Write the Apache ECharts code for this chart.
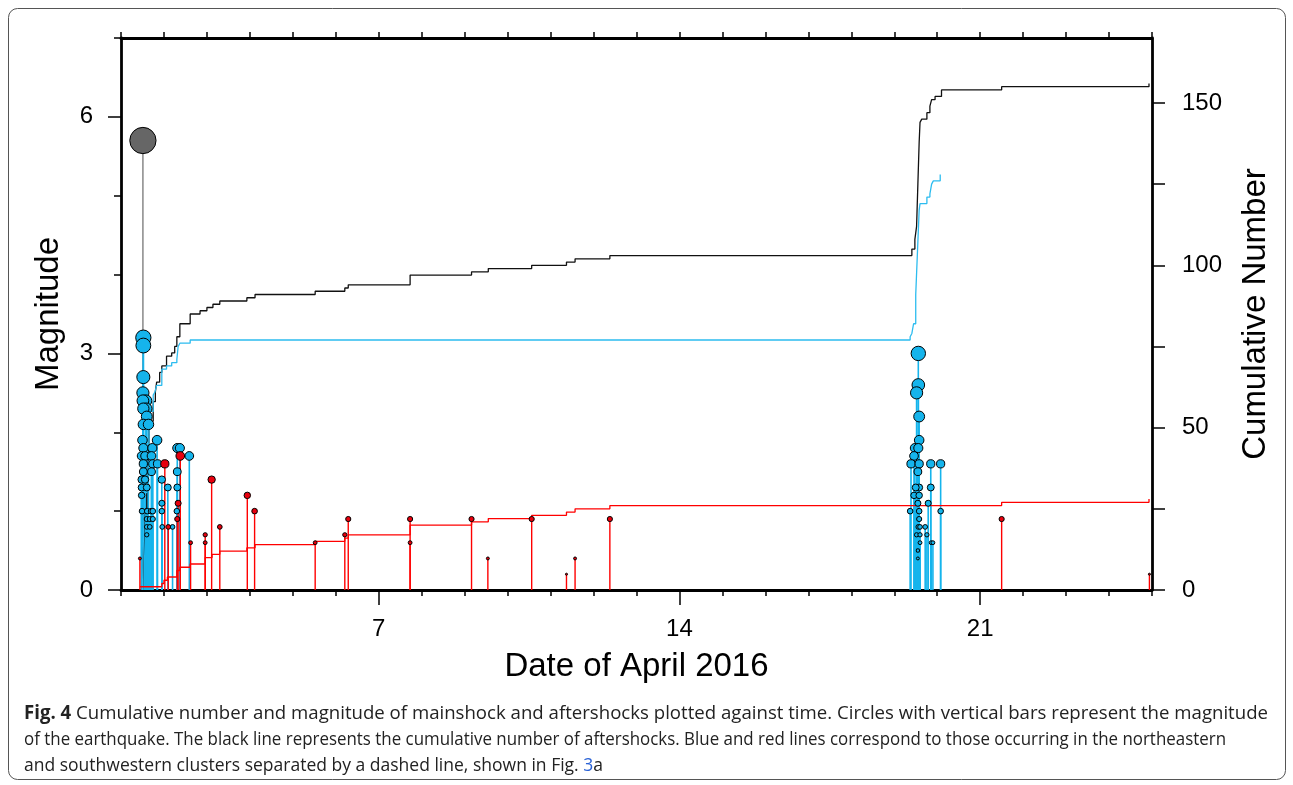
<!DOCTYPE html>
<html>
<head>
<meta charset="utf-8">
<script src="https://cdn.jsdelivr.net/npm/echarts@6/dist/echarts.min.js"></script>
<style>
html,body{margin:0;padding:0;background:#fff;}
#chart{width:1293px;height:785px;}
</style>
</head>
<body>
<div id="chart"></div>
<script>
// ---------------- data ----------------
const xTickLabels = [7, 14, 21];
const magTickLabels = [0, 3, 6];
const cumTicks = [0, 25, 50, 75, 100, 125, 150];
const cumTickLabels = [0, 50, 100, 150];

// [day of April 2016, magnitude]
const mainshock = [[1.51, 5.7]];

const neEvents = [
  [1.52,3.2],[1.52,3.1],[1.52,2.7],[1.51,2.5],[1.58,2.4],[1.51,2.4],[1.59,2.3],[1.52,2.3],
  [1.60,2.2],[1.52,2.1],[1.64,2.1],[1.50,1.9],[1.52,1.8],[1.73,1.8],[1.84,1.9],[1.48,1.7],
  [1.56,1.7],[1.71,1.7],[1.52,1.6],[1.74,1.6],[1.85,1.6],[1.52,1.5],[1.71,1.5],[1.48,1.4],
  [1.56,1.4],[1.48,1.3],[1.60,1.3],[1.48,1.2],[1.49,1.0],[1.61,1.0],[1.70,1.0],[1.74,1.0],
  [1.60,0.9],[1.67,0.9],[1.74,0.9],[1.60,0.8],[1.67,0.8],[1.60,0.7],[1.95,1.4],[2.09,1.3],
  [1.95,1.1],[1.95,1.0],[1.96,0.8],[2.20,0.8],[2.31,1.8],[2.37,1.8],[2.31,1.5],[2.31,1.3],
  [2.30,1.0],[2.59,1.7],
  [19.56,3.0],[19.56,2.6],[19.52,2.5],[19.58,2.2],[19.58,1.9],[19.48,1.8],[19.56,1.8],
  [19.46,1.7],[19.39,1.6],[19.58,1.6],[19.55,1.5],[19.85,1.6],[20.08,1.6],[19.58,1.3],
  [19.50,1.3],[19.85,1.3],[19.46,1.2],[19.58,1.2],[19.55,1.1],[19.79,1.1],[19.37,1.0],
  [19.58,1.0],[20.08,1.0],[19.58,0.9],[19.56,0.8],[19.60,0.8],[19.72,0.8],[19.52,0.7],
  [19.60,0.7],[19.76,0.7],[19.60,0.6],[19.86,0.6],[19.90,0.6],[19.55,0.5],[19.55,0.4]
];

const swEvents = [
  [1.44,0.4],[2.02,1.6],[2.10,0.8],[2.31,0.9],[2.33,1.1],[2.38,1.7],[2.62,0.6],[2.96,0.7],
  [2.96,0.6],[3.11,1.4],[3.30,0.8],[3.94,1.2],[4.11,1.0],[5.52,0.6],[6.21,0.7],[6.29,0.9],
  [7.73,0.9],[7.73,0.6],[9.16,0.9],[9.54,0.4],[10.56,0.9],[11.37,0.2],[11.57,0.4],[12.38,0.9],
  [21.50,0.9],[24.94,0.2]
];

// cumulative counts [day, count]
const cumAll = [
  [1.50,0],[1.52,10],[1.55,25],[1.60,40],[1.65,52],[1.75,58],[1.80,61],[1.83,64],[1.90,67],
  [1.95,69],[2.06,72],[2.18,73],[2.25,75],[2.30,78],[2.37,82],[2.61,85],[2.84,86],[3.00,87],
  [3.14,88],[3.30,89],[3.93,90],[4.12,91],[5.52,92],[6.21,93],[6.29,94],[7.73,97],[9.16,98],
  [9.55,99],[10.56,100],[11.37,101],[11.57,102],[12.38,103],[19.41,105],[19.48,108],[19.52,112],
  [19.55,125],[19.58,138],[19.60,144],[19.64,145],[19.76,147],[19.83,149],[19.87,151],[19.95,152],
  [20.10,154],[21.50,155],[24.93,156]
];
const cumNE = [
  [1.50,0],[1.52,15],[1.55,30],[1.60,45],[1.65,55],[1.75,60],[1.79,61],[1.83,63],[1.95,68],
  [2.06,69],[2.18,70],[2.30,71],[2.33,75],[2.37,76],[2.61,77],[19.37,78],[19.41,79],[19.45,82],
  [19.50,91],[19.54,104],[19.58,117],[19.60,119],[19.76,121],[19.83,122],[19.87,125],[19.91,126],
  [20.07,128]
];
const cumSW = [
  [1.44,1],[1.95,2],[2.00,3],[2.08,4],[2.30,6],[2.37,7],[2.61,8],[2.96,10],[3.12,11],[3.30,12],
  [3.93,13],[4.12,14],[5.52,15],[6.21,16],[6.29,17],[7.73,20],[9.16,21],[9.55,22],[10.56,23],
  [11.37,24],[11.57,25],[12.38,26],[21.50,27],[24.93,28]
];

const captionLines = [
  ['Fig. 4', ' Cumulative number and magnitude of mainshock and aftershocks plotted against time. Circles with vertical bars represent the magnitude'],
  ['', 'of the earthquake. The black line represents the cumulative number of aftershocks. Blue and red lines correspond to those occurring in the northeastern'],
  ['', 'and southwestern clusters separated by a dashed line, shown in Fig. ', '3', 'a']
];

// ---------------- styles ----------------
const BLUE = '#15b4ec';
const RED = '#ff0000';
const RED_FILL = '#e8000e';
const GRAY = '#666666';
const AXIS_FONT = 'Liberation Sans';
const CAP_FONT = 'Open Sans';
const CAP_SIZE = 19;

function stemSeries(name, data, color, width, z) {
  return {
    name, type: 'custom', xAxisIndex: 0, yAxisIndex: 0, z,
    data, encode: {x: 0, y: 1},
    renderItem: function (params, api) {
      const p0 = api.coord([api.value(0), 0]);
      const p1 = api.coord([api.value(0), api.value(1)]);
      return {type: 'line', shape: {x1: p0[0], y1: p0[1], x2: p1[0], y2: p1[1]},
              style: {stroke: color, lineWidth: width}};
    }
  };
}
function dotSeries(name, data, fill, z) {
  return {
    name, type: 'scatter', xAxisIndex: 0, yAxisIndex: 0, z, data,
    symbol: 'circle',
    symbolSize: v => 4.4 * v[1] + 1.2,
    itemStyle: {color: fill, borderColor: '#000', borderWidth: 1, opacity: 1},
    emphasis: {disabled: true}
  };
}
function cumSeries(name, data, color) {
  return {
    name, type: 'line', xAxisIndex: 0, yAxisIndex: 2, z: 3, data,
    step: 'end', showSymbol: false, symbol: 'none',
    lineStyle: {color, width: 1.3}, emphasis: {disabled: true}
  };
}

// caption: horizontal compression of each line to its width in the reference
const ctx = document.createElement('canvas').getContext('2d');
function measure(parts) {
  let w = 0;
  parts.forEach(([t, bold]) => {
    ctx.font = (bold ? 'bold ' : '') + CAP_SIZE + 'px "' + CAP_FONT + '"';
    w += ctx.measureText(t).width;
  });
  return w;
}
const lineTargets = [1244, 1202, 579];
const s1 = lineTargets[0] / measure([[captionLines[0][0], true], [captionLines[0][1], false]]);
const s2 = lineTargets[1] / measure([[captionLines[1][1], false]]);
const s3 = lineTargets[2] / measure([[captionLines[2][1] + captionLines[2][2] + captionLines[2][3], false]]);

const capStyleBase = {fontSize: CAP_SIZE, fontFamily: CAP_FONT, fill: '#222', verticalAlign: 'middle', align: 'left'};
const captionGraphics = [
  {type: 'text', x: 24, y: 714, scaleX: s1, style: Object.assign({}, capStyleBase, {
    text: '{b|' + captionLines[0][0] + '}' + captionLines[0][1],
    rich: {b: {fontWeight: 'bold', fontSize: CAP_SIZE, fontFamily: CAP_FONT, fill: '#222'}}
  })},
  {type: 'text', x: 24, y: 740, scaleX: s2, style: Object.assign({}, capStyleBase, {
    text: captionLines[1][1]
  })},
  {type: 'text', x: 24, y: 766, scaleX: s3, style: Object.assign({}, capStyleBase, {
    text: captionLines[2][1] + '{l|' + captionLines[2][2] + '}' + captionLines[2][3],
    rich: {l: {fill: '#2a62d6', fontSize: CAP_SIZE, fontFamily: CAP_FONT}}
  })}
];

const axisLineStyle = {color: '#000', width: 2.8};
const tickStyle = {color: '#000', width: 1.5};
const labelStyle = {fontSize: 24, fontFamily: AXIS_FONT, color: '#000'};
const nameStyle = {fontSize: 33, fontFamily: AXIS_FONT, color: '#000'};

const option = {
  animation: false,
  backgroundColor: '#fff',
  grid: {left: 121, right: 141, top: 38, bottom: 195, containLabel: false, outerBoundsMode: 'none'},
  xAxis: [
    {type: 'value', min: 1, max: 25, position: 'bottom',
     axisLine: {show: true, onZero: false, lineStyle: axisLineStyle},
     axisTick: {show: true, customValues: xTickLabels, length: 15, lineStyle: tickStyle},
     axisLabel: Object.assign({show: true, customValues: xTickLabels, margin: 27}, labelStyle),
     splitLine: {show: false},
     name: 'Date of April 2016', nameLocation: 'middle', nameGap: 60, nameTextStyle: nameStyle},
    {type: 'value', min: 1, max: 25, interval: 1, position: 'bottom',
     axisLine: {show: false, onZero: false},
     axisTick: {show: true, length: 6, lineStyle: tickStyle},
     axisLabel: {show: false}, splitLine: {show: false}},
    {type: 'value', min: 1, max: 25, interval: 1, position: 'top',
     axisLine: {show: true, onZero: false, lineStyle: axisLineStyle},
     axisTick: {show: true, length: 6, lineStyle: tickStyle},
     axisLabel: {show: false}, splitLine: {show: false}}
  ],
  yAxis: [
    {type: 'value', min: 0, max: 7, position: 'left',
     axisLine: {show: true, onZero: false, lineStyle: axisLineStyle},
     axisTick: {show: true, customValues: magTickLabels, length: 13, lineStyle: tickStyle},
     axisLabel: Object.assign({show: true, customValues: magTickLabels, margin: 28}, labelStyle),
     splitLine: {show: false},
     name: 'Magnitude', nameLocation: 'middle', nameGap: 56, nameTextStyle: nameStyle},
    {type: 'value', min: 0, max: 7, interval: 1, position: 'left',
     axisLine: {show: false, onZero: false},
     axisTick: {show: true, length: 7, lineStyle: tickStyle},
     axisLabel: {show: false}, splitLine: {show: false}},
    {type: 'value', min: 0, max: 170, position: 'right',
     axisLine: {show: true, onZero: false, lineStyle: axisLineStyle},
     axisTick: {show: true, customValues: cumTicks, length: 13, lineStyle: tickStyle},
     axisLabel: Object.assign({show: true, customValues: cumTickLabels, margin: 30}, labelStyle),
     splitLine: {show: false},
     name: 'Cumulative Number', nameLocation: 'middle', nameGap: 87, nameTextStyle: nameStyle}
  ],
  graphic: [
    {type: 'rect', shape: {x: 8.5, y: 8.5, width: 1277, height: 771, r: 9},
     style: {fill: 'none', stroke: '#555', lineWidth: 1}, z: -10, silent: true}
  ].concat(captionGraphics),
  series: [
    stemSeries('mainStem', mainshock, '#888888', 1.5, 1),
    stemSeries('neStem', neEvents, BLUE, 1.6, 2),
    stemSeries('swStem', swEvents, RED, 1.4, 2),
    cumSeries('cumAll', cumAll, '#111'),
    cumSeries('cumNE', cumNE, '#2cbcef'),
    cumSeries('cumSW', cumSW, RED),
    dotSeries('main', mainshock, GRAY, 5),
    dotSeries('ne', neEvents, BLUE, 5),
    dotSeries('sw', swEvents, RED_FILL, 6)
  ]
};

const chart = echarts.init(document.getElementById('chart'), null, {renderer: 'canvas'});
chart.setOption(option);
</script>
</body>
</html>
